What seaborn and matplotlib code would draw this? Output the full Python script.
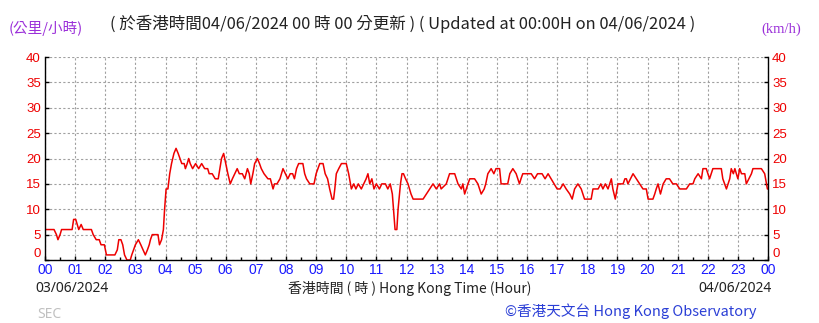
import numpy as np
import pandas as pd
import matplotlib
matplotlib.use("Agg")
import matplotlib.pyplot as plt
import seaborn as sns

# ---- data (hours since 00:00 on 03/06/2024, mean wind speed km/h) ----
hours = [0.00, 0.30, 0.38, 0.43, 0.50, 0.55, 0.90, 0.95, 1.02, 1.07, 1.12, 1.20, 1.27, 1.54,
         1.60, 1.70, 1.80, 1.86, 1.97, 2.04, 2.32, 2.40, 2.45, 2.52, 2.58, 2.64, 2.72, 2.83,
         2.88, 3.00, 3.10, 3.18, 3.33, 3.40, 3.46, 3.50, 3.56, 3.75, 3.80, 3.87, 3.93, 3.97,
         4.02, 4.08, 4.14, 4.20, 4.28, 4.35, 4.42, 4.48, 4.54, 4.62, 4.66, 4.72, 4.77, 4.82,
         4.90, 5.00, 5.10, 5.20, 5.30, 5.40, 5.45, 5.55, 5.65, 5.75, 5.86, 5.93, 6.00, 6.07,
         6.15, 6.22, 6.30, 6.38, 6.45, 6.55, 6.63, 6.72, 6.78, 6.83, 6.90, 6.96, 7.05, 7.12,
         7.18, 7.27, 7.40, 7.48, 7.57, 7.62, 7.70, 7.80, 7.90, 7.98, 8.06, 8.14, 8.22, 8.28,
         8.35, 8.42, 8.56, 8.62, 8.68, 8.79, 8.93, 9.00, 9.12, 9.23, 9.30, 9.38, 9.45, 9.53,
         9.58, 9.62, 9.67, 9.75, 9.84, 10.00, 10.08, 10.17, 10.25, 10.32, 10.40, 10.50, 10.58,
         10.66, 10.72, 10.78, 10.85, 10.92, 11.00, 11.10, 11.18, 11.30, 11.38, 11.46, 11.53,
         11.58, 11.62, 11.68, 11.72, 11.80, 11.85, 11.90, 11.97, 12.05, 12.15, 12.22, 12.55,
         12.66, 12.77, 12.88, 12.99, 13.10, 13.15, 13.32, 13.43, 13.60, 13.71, 13.82, 13.87,
         13.93, 14.04, 14.10, 14.26, 14.37, 14.48, 14.58, 14.63, 14.70, 14.81, 14.90, 14.97,
         15.09, 15.14, 15.36, 15.43, 15.53, 15.64, 15.75, 15.80, 15.86, 16.14, 16.25, 16.35,
         16.50, 16.60, 16.70, 16.80, 16.90, 17.00, 17.10, 17.20, 17.30, 17.42, 17.50, 17.58,
         17.69, 17.80, 17.91, 18.13, 18.19, 18.36, 18.45, 18.52, 18.60, 18.69, 18.80, 18.85,
         18.93, 19.02, 19.13, 19.19, 19.25, 19.30, 19.35, 19.52, 19.63, 19.74, 19.85, 19.96,
         20.02, 20.18, 20.24, 20.29, 20.35, 20.43, 20.52, 20.62, 20.73, 20.84, 20.96, 21.07,
         21.29, 21.40, 21.51, 21.57, 21.68, 21.79, 21.84, 21.95, 22.06, 22.17, 22.28, 22.45,
         22.50, 22.62, 22.73, 22.78, 22.85, 22.90, 23.00, 23.06, 23.12, 23.23, 23.28, 23.45,
         23.50, 23.78, 23.89, 23.98, 24.00]
speed = [6, 6, 5, 4, 5, 6, 6, 8, 8, 7, 6, 7, 6, 6,
         5, 4, 4, 3, 3, 1, 1, 2, 4, 4, 3, 1, 0, 0,
         1, 3, 4, 3, 1, 2, 3, 4, 5, 5, 3, 4, 6, 10,
         14, 14, 17, 19, 21, 22, 21, 20, 19, 19, 18, 19, 20, 19,
         18, 19, 18, 19, 18, 18, 17, 17, 16, 16, 20, 21, 19, 17,
         15, 16, 17, 18, 17, 17, 16, 18, 17, 15, 17, 19, 20, 19,
         18, 17, 16, 16, 14, 15, 15, 16, 18, 17, 16, 17, 17, 16,
         18, 19, 19, 17, 16, 15, 15, 17, 19, 19, 17, 16, 14, 12,
         12, 14, 17, 18, 19, 19, 17, 14, 15, 14, 15, 14, 15,
         16, 17, 15, 16, 14, 15, 14, 15, 15, 14, 15, 13,
         9, 6, 6, 10, 15, 17, 17, 16, 15, 13, 12, 12,
         13, 14, 15, 14, 15, 14, 15, 17, 17, 15, 14, 15,
         13, 15, 16, 16, 15, 13, 14, 15, 17, 18, 17, 18,
         18, 15, 15, 17, 18, 17, 15, 16, 17, 17, 16, 17,
         17, 16, 17, 16, 15, 14, 14, 15, 14, 13, 12, 14,
         15, 14, 12, 12, 14, 14, 15, 14, 15, 14, 16, 14,
         12, 15, 15, 15, 16, 16, 15, 17, 16, 15, 14, 14,
         12, 12, 13, 14, 15, 13, 15, 16, 16, 15, 15, 14,
         14, 15, 15, 16, 17, 16, 18, 18, 16, 18, 18, 18,
         16, 14, 16, 18, 17, 18, 16, 18, 17, 17, 15, 17,
         18, 18, 17, 14, 14]

x_ticks = list(range(25))
x_labels = ["00", "01", "02", "03", "04", "05", "06", "07", "08", "09", "10", "11", "12",
            "13", "14", "15", "16", "17", "18", "19", "20", "21", "22", "23", "00"]
y_ticks = [0, 5, 10, 15, 20, 25, 30, 35, 40]

title_text = "( 於香港時間04/06/2024 00 時 00 分更新 ) ( Updated at 00:00H on 04/06/2024 )"
left_unit = "(公里/小時)"
right_unit = "(km/h)"
date_start = "03/06/2024"
date_end = "04/06/2024"
x_title = "香港時間 ( 時 ) Hong Kong Time (Hour)"
credit = "©香港天文台 Hong Kong Observatory"

df = pd.DataFrame({"hour": hours, "speed": speed})

# ---- style ----
sns.set_style("white")
plt.rcParams["font.family"] = ["Noto Sans", "Noto Sans CJK TC", "DejaVu Sans"]

W, H = 819, 323
fig = plt.figure(figsize=(W / 100, H / 100), dpi=100)
fig.patch.set_facecolor("white")

L, R, T, B = 45, 768, 57, 260
ax = fig.add_axes([L / W, 1 - B / H, (R - L) / W, (B - T) / H])
ax.set_facecolor("white")

sns.lineplot(data=df, x="hour", y="speed", ax=ax, color="#ee0000", linewidth=1.1,
             estimator=None, sort=False)

ax.set_xlim(0, 24)
ax.set_ylim(0, 40)
ax.set_xlabel("")
ax.set_ylabel("")

ax.set_xticks(x_ticks)
ax.set_xticklabels(x_labels)
ax.set_xticks(np.arange(0.5, 24, 1.0), minor=True)
ax.set_yticks(y_ticks)
ax.set_yticklabels([str(v) for v in y_ticks])

ax.grid(True, which="major", color="#a0a0a0", linestyle=(0, (2, 2)), linewidth=0.8)
ax.set_axisbelow(True)

for side in ["left", "right", "bottom"]:
    ax.spines[side].set_visible(True)
    ax.spines[side].set_color("black")
    ax.spines[side].set_linewidth(1.0)
ax.spines["top"].set_visible(False)

ax.tick_params(axis="x", which="major", direction="in", length=3, width=1, color="black",
               labelcolor="#1a1aff", labelsize=10, pad=2, bottom=True)
ax.tick_params(axis="x", which="minor", direction="in", length=2, width=1, color="black",
               bottom=True)
ax.tick_params(axis="y", which="major", direction="in", length=3, width=1, color="black",
               labelcolor="#ee0000", labelsize=9.5, pad=3, left=True, right=True,
               labelleft=True, labelright=True)
for lab in ax.get_xticklabels():
    lab.set_fontfamily(["Liberation Sans"])
for lab in ax.get_yticklabels() + ax.yaxis.get_ticklabels(which="major"):
    lab.set_fontfamily(["Liberation Sans"])
# lift the "0" labels slightly so they sit just above the hour labels
for tk in ax.yaxis.get_major_ticks():
    if tk.get_loc() == 0:
        tk.label1.set_verticalalignment("bottom")
        tk.label2.set_verticalalignment("bottom")


def fx(x):
    return x / W


def fy(y):
    return 1 - y / H


fig.text(fx(9), fy(28), left_unit, color="#9b30d9", fontsize=10.5,
         family=["Noto Sans CJK TC", "DejaVu Sans"], ha="left", va="center")
fig.text(fx(403), fy(24), title_text, color="#222222", fontsize=11.9,
         family=["Noto Sans CJK TC", "DejaVu Sans"], ha="center", va="center")
fig.text(fx(781), fy(29), right_unit, color="#9b30d9", fontsize=10.5,
         family=["Liberation Serif"], ha="center", va="center")
fig.text(fx(35), fy(288), date_start, color="#222222", fontsize=10,
         family=["Noto Sans", "DejaVu Sans"], ha="left", va="center")
fig.text(fx(410), fy(288), x_title, color="#222222", fontsize=10,
         family=["Noto Sans CJK TC", "DejaVu Sans"], ha="center", va="center")
fig.text(fx(772), fy(288), date_end, color="#222222", fontsize=10,
         family=["Noto Sans", "DejaVu Sans"], ha="right", va="center")
fig.text(fx(37), fy(314), "SEC", color="#c0c0c0", fontsize=10,
         family=["Noto Sans", "DejaVu Sans"], ha="left", va="center")
fig.text(fx(631), fy(311), credit, color="#2b3fd6", fontsize=10.5,
         family=["Noto Sans CJK TC", "DejaVu Sans"], ha="center", va="center")

fig.savefig("out.png", dpi=100, facecolor="white")
